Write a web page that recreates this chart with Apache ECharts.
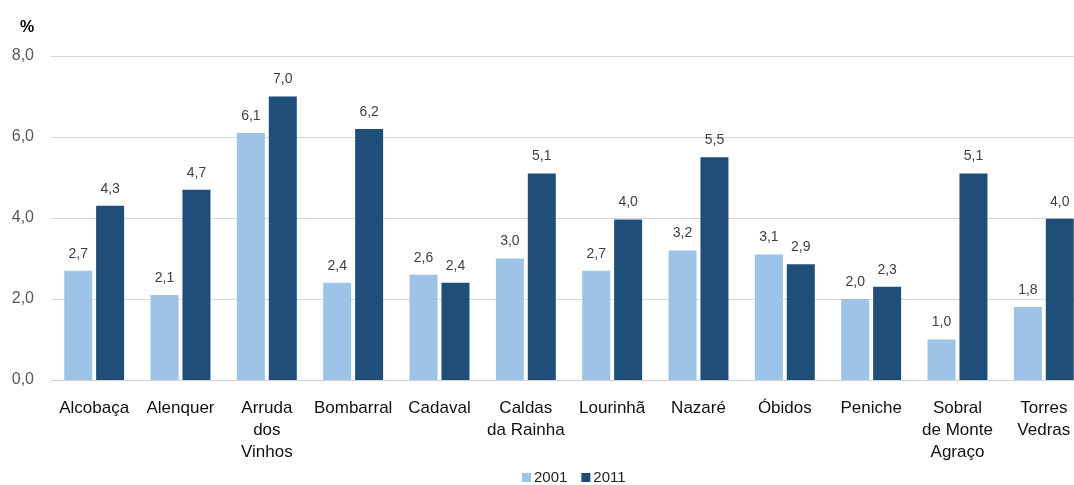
<!DOCTYPE html>
<html>
<head>
<meta charset="utf-8">
<script src="https://cdn.jsdelivr.net/npm/echarts@6/dist/echarts.min.js"></script>
<style>
    html, body { margin: 0; padding: 0; background: #fff; }
    #chart { width: 1074px; height: 485px; }
</style>
</head>
<body>
<div id="chart"></div>
<script>
    const categories = ["Alcobaça", "Alenquer", "Arruda\ndos\nVinhos", "Bombarral", "Cadaval",
        "Caldas\nda Rainha", "Lourinhã", "Nazaré", "Óbidos", "Peniche", "Sobral\nde Monte\nAgraço", "Torres\nVedras"];
    const values2001 = [2.7, 2.1, 6.1, 2.4, 2.6, 3.0, 2.7, 3.2, 3.1, 2.0, 1.0, 1.8];
    const values2011 = [4.3, 4.7, 7.0, 6.2, 2.4, 5.1, 3.96, 5.5, 2.86, 2.3, 5.1, 3.98];
    const yTicks = [0, 2, 4, 6, 8];

    const fmt = v => v.toFixed(1).replace('.', ',');
    const font = '"Liberation Sans", Arial, sans-serif';

    let chart = echarts.init(document.getElementById('chart'));
    let labelStyle = {
        show: true,
        position: 'top',
        distance: 10,
        color: '#404040',
        fontSize: 14,
        fontFamily: font,
        formatter: p => fmt(p.value)
    };
    let option = {
        animation: false,
        textStyle: {fontFamily: font},
        grid: {left: 51, width: 1036, top: 56, bottom: 105, containLabel: false, outerBoundsMode: 'none'},
        title: {
            text: '%',
            left: 15,
            top: 15,
            textStyle: {fontSize: 16, fontWeight: 'bold', color: '#000', fontFamily: font}
        },
        legend: {
            top: 465,
            left: 517,
            itemWidth: 9,
            itemHeight: 9,
            itemGap: 14,
            icon: 'rect',
            textStyle: {fontSize: 15, color: '#222', fontFamily: font, padding: [0, 0, 0, -2]},
            data: ['2001', '2011']
        },
        xAxis: {
            type: 'category',
            data: categories,
            axisTick: {show: false},
            axisLine: {show: true, lineStyle: {color: '#d0d0d0', width: 1}},
            axisLabel: {
                color: '#111',
                fontSize: 17,
                lineHeight: 22,
                margin: 17,
                interval: 0,
                fontFamily: font
            }
        },
        yAxis: {
            type: 'value',
            min: 0,
            max: 8,
            interval: 2,
            axisLine: {show: false},
            axisTick: {show: false},
            splitLine: {lineStyle: {color: '#d9d9d9', width: 1}},
            axisLabel: {
                color: '#595959',
                fontSize: 16,
                margin: 17,
                fontFamily: font,
                formatter: v => yTicks.includes(v) ? fmt(v) : ''
            }
        },
        series: [
            {
                name: '2001',
                type: 'bar',
                data: values2001,
                barWidth: 28,
                barGap: '14%',
                itemStyle: {color: '#9dc3e6'},
                label: labelStyle
            },
            {
                name: '2011',
                type: 'bar',
                data: values2011,
                barWidth: 28,
                itemStyle: {color: '#1f4e79'},
                label: labelStyle
            }
        ]
    };
    chart.setOption(option, true);
</script>
</body>
</html>
